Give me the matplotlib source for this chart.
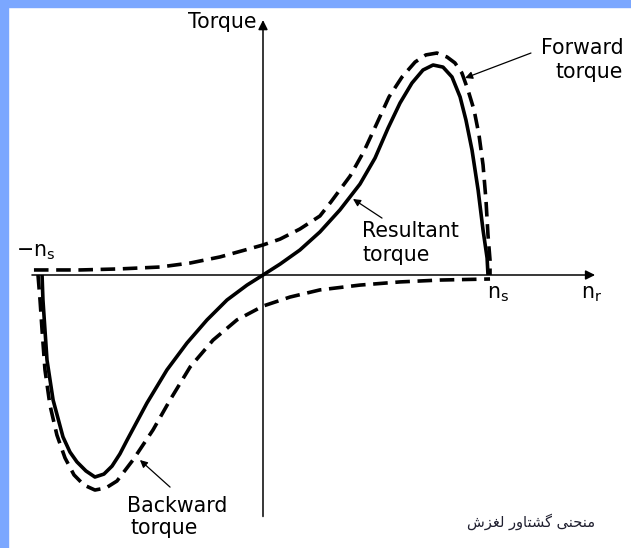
import matplotlib
matplotlib.use('Agg')
import matplotlib.pyplot as plt
from matplotlib.patches import Rectangle

# speed as a fraction of synchronous speed n_s, torque relative to the resultant peak
resultant_speed = [-0.982, -0.978, -0.969, -0.96, -0.933, -0.889, -0.858, -0.827, -0.787, -0.747,
                   -0.707, -0.671, -0.636, -0.604, -0.516, -0.427, -0.338, -0.249, -0.16,
                   -0.071, 0.0,
                   0.076, 0.164, 0.253, 0.342, 0.431, 0.498, 0.556, 0.609, 0.662, 0.711,
                   0.756, 0.8, 0.84, 0.876, 0.902, 0.929, 0.956, 0.978, 0.996, 1.0]
resultant_torque = [0.0, -0.119, -0.262, -0.405, -0.595, -0.771, -0.843, -0.89, -0.933, -0.962,
                    -0.948, -0.91, -0.852, -0.786, -0.61, -0.452, -0.324, -0.214, -0.119,
                    -0.048, 0.0,
                    0.052, 0.119, 0.205, 0.31, 0.433, 0.557, 0.7, 0.819, 0.914, 0.976,
                    1.0, 0.99, 0.943, 0.848, 0.738, 0.595, 0.405, 0.214, 0.081, 0.0]

forward_speed = [-1.018, -0.813, -0.636, -0.458, -0.324, -0.191, -0.08, 0.0, 0.076, 0.164,
                 0.253, 0.302, 0.387, 0.449, 0.507, 0.56, 0.618, 0.676, 0.724, 0.773,
                 0.818, 0.853, 0.884, 0.911, 0.938, 0.96, 0.978, 0.991, 1.0, 1.009, 1.009]
forward_torque = [0.024, 0.024, 0.029, 0.038, 0.057, 0.086, 0.119, 0.143, 0.171, 0.219,
                  0.281, 0.348, 0.471, 0.59, 0.724, 0.848, 0.943, 1.014, 1.048, 1.057,
                  1.038, 1.01, 0.962, 0.881, 0.786, 0.667, 0.524, 0.357, 0.19, 0.071, 0.0]

backward_speed = [-1.0, -0.991, -0.982, -0.969, -0.947, -0.916, -0.88, -0.84, -0.796, -0.747,
                  -0.698, -0.649, -0.578, -0.489, -0.413, -0.324, -0.222, -0.116, 0.0,
                  0.12, 0.253, 0.431, 0.609, 0.787, 1.009]
backward_torque = [0.0, -0.119, -0.262, -0.452, -0.619, -0.762, -0.871, -0.952, -1.0, -1.024,
                   -1.014, -0.981, -0.881, -0.738, -0.595, -0.438, -0.31, -0.214, -0.148,
                   -0.105, -0.071, -0.048, -0.033, -0.024, -0.019]

# persian caption, shaped glyphs in visual order (matplotlib does no arabic shaping)
caption = ('\uFEB5\uFEB0\uFED0\uFEDF' + ' ' + '\uFEAD\uFEED\uFE8E\uFE98\uFEB8\uFB94'
           + ' ' + '\uFBFD\uFEE8\uFEA4\uFEE8\uFEE3')

plt.rcParams['font.family'] = ['DejaVu Sans']
plt.rcParams['lines.scale_dashes'] = False

fig = plt.figure(figsize=(6.31, 5.48), dpi=100)
ax = fig.add_axes([0, 0, 1, 1])
ax.set_xlim(-1.1689, 1.6356)
ax.set_ylim(-1.3, 1.3095)
ax.axis('off')

# blue frame on the left and top edge
fig.patches.append(Rectangle((0, 0), 8 / 631, 1, transform=fig.transFigure,
                             color='#7ba7ff', zorder=0))
fig.patches.append(Rectangle((0, 1 - 7 / 548), 1, 7 / 548, transform=fig.transFigure,
                             color='#7ba7ff', zorder=0))

# axes with arrow heads
ax.annotate('', xy=(1.476, 0), xytext=(-1.027, 0),
            arrowprops=dict(arrowstyle='-|>', lw=1.1, color='black', mutation_scale=14,
                            shrinkA=0, shrinkB=0))
ax.annotate('', xy=(0, 1.214), xytext=(0, -1.15),
            arrowprops=dict(arrowstyle='-|>', lw=1.1, color='black', mutation_scale=14,
                            shrinkA=0, shrinkB=0))

ax.plot(resultant_speed, resultant_torque, color='black', lw=2.6,
        solid_joinstyle='round', solid_capstyle='butt')
ax.plot(forward_speed, forward_torque, color='black', lw=2.6, dashes=(10.5, 5.5),
        dash_capstyle='butt')
ax.plot(backward_speed, backward_torque, color='black', lw=2.6, dashes=(10.5, 5.5),
        dash_capstyle='butt')

fs = 14.8
ax.text(-0.031, 1.205, 'Torque', fontsize=fs, ha='right', va='center')
ax.text(1.236, 1.081, 'Forward', fontsize=fs, ha='left', va='center')
ax.text(1.30, 0.967, 'torque', fontsize=fs, ha='left', va='center')
ax.text(0.440, 0.210, 'Resultant', fontsize=fs, ha='left', va='center')
ax.text(0.444, 0.095, 'torque', fontsize=fs, ha='left', va='center')
ax.text(-0.604, -1.10, 'Backward', fontsize=fs, ha='left', va='center')
ax.text(-0.587, -1.205, 'torque', fontsize=fs, ha='left', va='center')
ax.text(-1.009, 0.11, r'$\mathregular{-n_s}$', fontsize=fs, ha='center', va='center')
ax.text(1.045, -0.09, r'$\mathregular{n_s}$', fontsize=fs, ha='center', va='center')
ax.text(1.46, -0.09, r'$\mathregular{n_r}$', fontsize=fs, ha='center', va='center')

arrow = dict(arrowstyle='-|>', lw=0.9, color='black', mutation_scale=11,
             shrinkA=0, shrinkB=0)
ax.annotate('', xy=(0.898, 0.938), xytext=(1.191, 1.057), arrowprops=arrow)
ax.annotate('', xy=(0.4, 0.362), xytext=(0.529, 0.271), arrowprops=arrow)
ax.annotate('', xy=(-0.547, -0.881), xytext=(-0.413, -1.01), arrowprops=arrow)

ax.text(1.476, -1.176, caption, fontsize=10.5, ha='right', va='center',
        color='#202030', family=['DejaVu Sans'])

fig.savefig('out.png', dpi=100)
